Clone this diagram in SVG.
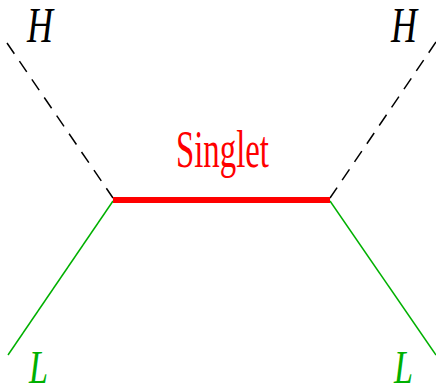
<svg xmlns="http://www.w3.org/2000/svg" width="436" height="387" viewBox="0 0 436 387">
<style>
.dash{stroke:#000;stroke-width:1.5;stroke-dasharray:13 9;fill:none}
.lep{stroke:#00b000;stroke-width:1.5;fill:none}
.sing{stroke:#ff0000;stroke-width:6;fill:none}
.lbl{font-family:"Liberation Serif",serif;font-style:italic}
</style>
<rect width="436" height="387" fill="#fff"/>
<g id="connectors">
<line class="dash" x1="7" y1="43" x2="113" y2="198"/>
<line class="dash" x1="436" y1="42" x2="330" y2="198"/>
<line class="lep" x1="113" y1="201" x2="8" y2="355"/>
<line class="lep" x1="330" y1="201" x2="436" y2="355"/>
<line class="sing" x1="113" y1="200" x2="330" y2="200"/>
</g>
<g id="H1"><text class="lbl" x="27" y="42" font-size="50" textLength="26" lengthAdjust="spacingAndGlyphs" fill="#000">H</text></g>
<g id="H2"><text class="lbl" x="391" y="42" font-size="50" textLength="26" lengthAdjust="spacingAndGlyphs" fill="#000">H</text></g>
<g id="L1"><text class="lbl" x="29" y="383" font-size="47" textLength="19" lengthAdjust="spacingAndGlyphs" fill="#00b000">L</text></g>
<g id="L2"><text class="lbl" x="394" y="383" font-size="47" textLength="19" lengthAdjust="spacingAndGlyphs" fill="#00b000">L</text></g>
<g id="singlet"><text x="176" y="167" font-family="Liberation Serif,serif" font-size="53" textLength="93" lengthAdjust="spacingAndGlyphs" fill="#ff0000">Singlet</text></g>
</svg>
